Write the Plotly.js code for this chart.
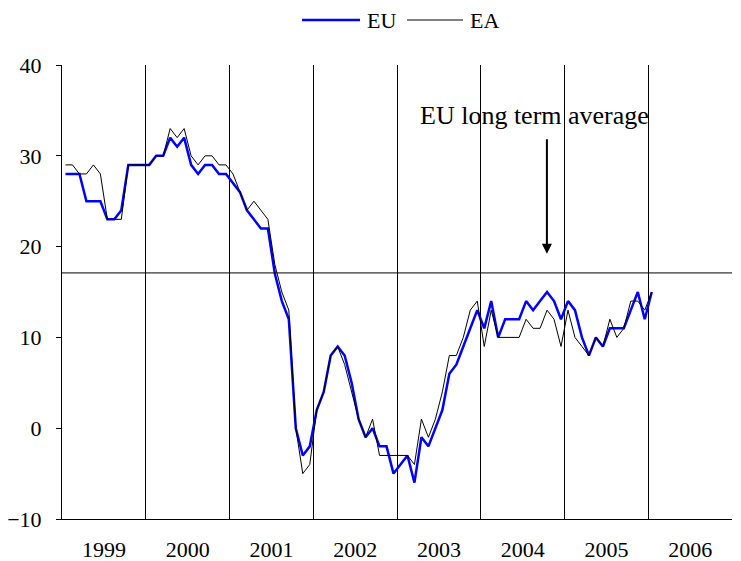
<!DOCTYPE html>
<html>
<head>
<meta charset="utf-8">
<script src="https://cdn.plot.ly/plotly-3.0.1.min.js"></script>
<style>html,body{margin:0;padding:0;background:#fff;}#chart{width:741px;height:561px;}</style>
</head>
<body>
<div id="chart"></div>
<script>
// Monthly data, Jan 1999 .. Jan 2006
const startYear = 1999;
const euValues = [
  28,28,28,25,25,25,23,23,24,29,29,29,   // 1999
  29,30,30,32,31,32,29,28,29,29,28,28,   // 2000
  27,26,24,23,22,22,17,14,12,0,-3,-2,    // 2001
  2,4,8,9,8,5,1,-1,0,-2,-2,-5,           // 2002
  -4,-3,-6,-1,-2,0,2,6,7,9,11,13,        // 2003
  11,14,10,12,12,12,14,13,14,15,14,12,   // 2004
  14,13,10,8,10,9,11,11,11,13,15,12,     // 2005
  15                                     // 2006 Jan
];
const eaValues = [
  29,29,28,28,29,28,23,23,23,29,29,29,   // 1999
  29,30,30,33,32,33,30,29,30,30,29,29,   // 2000
  28,26,24,25,24,23,18,15,13,0,-5,-4,    // 2001
  2,4,8,9,7,4,1,-1,1,-3,-3,-3,           // 2002
  -3,-3,-4,1,-1,1,4,8,8,10,13,14,        // 2003
  9,13,10,10,10,10,12,11,11,13,12,9,     // 2004
  13,10,9,8,10,9,12,10,11,14,14,13,      // 2005
  15                                     // 2006 Jan
];
const yearLabels = ['1999','2000','2001','2002','2003','2004','2005','2006'];
const yearBoundaries = [1999,2000,2001,2002,2003,2004,2005,2006,2007];
const longTermAverage = 17.1;
const annotationText = 'EU long term average';
const seriesNames = ['EU', 'EA'];
const seriesColors = ['#0000ff', '#000000'];
const seriesWidths = [2.5, 1];

// month index -> position at middle of the month
const months = euValues.map((_, i) => startYear + (i + 0.5) / 12);
const labelPos = yearLabels.map(y => Number(y) + 0.5);

const FONT = 'Liberation Serif, Times New Roman, serif';

const traces = [
  {x: months, y: euValues, name: seriesNames[0], type: 'scatter', mode: 'lines',
   line: {color: seriesColors[0], width: seriesWidths[0]}},
  {x: months, y: eaValues, name: seriesNames[1], type: 'scatter', mode: 'lines',
   line: {color: seriesColors[1], width: seriesWidths[1]}}
];

// custom legend (longer line samples, like the reference), placed in paper coords
const plotL = 62, plotW = 670, plotT = 65, plotH = 454;
const px = v => (v - plotL) / plotW;
const py = v => 1 + (plotT - v) / plotH;
const legendY = 20;
const legendItems = [
  {x0: 302, x1: 360, tx: 365},
  {x0: 407, x1: 463, tx: 468}
];
const legendShapes = legendItems.map((it, i) => ({
  type: 'line', xref: 'paper', yref: 'paper',
  x0: px(it.x0), x1: px(it.x1), y0: py(legendY), y1: py(legendY),
  line: {color: seriesColors[i], width: seriesWidths[i]}
}));
const legendTexts = legendItems.map((it, i) => ({
  xref: 'paper', yref: 'paper', x: px(it.tx), y: py(legendY),
  xanchor: 'left', yanchor: 'middle', showarrow: false, text: seriesNames[i],
  font: {family: FONT, size: 22, color: '#000'}
}));

const layout = {
  width: 741, height: 561,
  margin: {l: 62, r: 9, t: 65, b: 42},
  paper_bgcolor: '#fff', plot_bgcolor: '#fff',
  font: {family: FONT, size: 22, color: '#000'},
  showlegend: false,
  xaxis: {
    range: [1999, 2007], tickmode: 'array', tickvals: labelPos, ticktext: yearLabels,
    ticks: '', showgrid: false, zeroline: false,
    showline: true, linecolor: '#000', linewidth: 1,
    ticklabelstandoff: 11,
    tickfont: {family: FONT, size: 22, color: '#000'},
    minor: {tickmode: 'array', tickvals: yearBoundaries, showgrid: true,
            gridcolor: '#000', gridwidth: 1, ticks: ''}
  },
  yaxis: {
    range: [-10, 40], tickmode: 'linear', tick0: -10, dtick: 10,
    ticks: 'outside', ticklen: 5, tickcolor: '#000', tickwidth: 1,
    showgrid: false, zeroline: false,
    showline: true, linecolor: '#000', linewidth: 1,
    ticklabelstandoff: 10,
    tickfont: {family: FONT, size: 22, color: '#000'}
  },
  shapes: [
    {type: 'line', xref: 'paper', x0: 0, x1: 1, yref: 'y', y0: longTermAverage, y1: longTermAverage,
     line: {color: '#000', width: 1}}
  ].concat(legendShapes),
  annotations: [
    {xref: 'x', yref: 'y', x: 2004.64, y: 34.4, text: annotationText, showarrow: false,
     font: {family: FONT, size: 26, color: '#000'}},
    {xref: 'x', yref: 'y', x: 2004.79, y: 19.2, axref: 'x', ayref: 'y', ax: 2004.79, ay: 32,
     text: '', showarrow: true, arrowhead: 2, arrowsize: 1, arrowwidth: 2, arrowcolor: '#000'}
  ].concat(legendTexts)
};

Plotly.newPlot('chart', traces, layout, {displayModeBar: false, staticPlot: true});
</script>
</body>
</html>
